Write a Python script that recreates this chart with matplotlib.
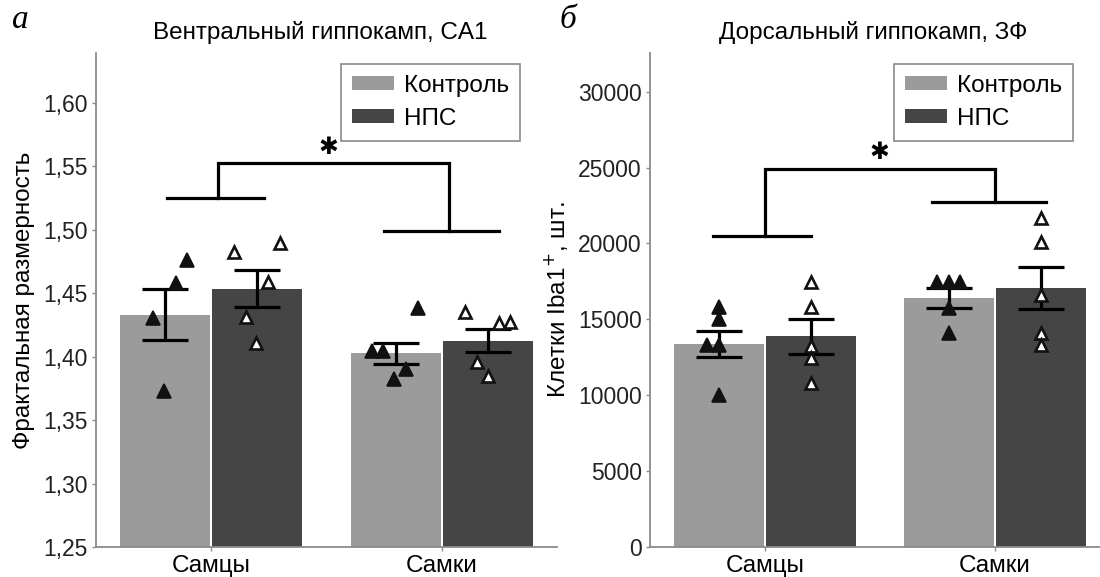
import matplotlib
matplotlib.use('Agg')
import matplotlib.pyplot as plt
import numpy as np
from matplotlib.patches import Patch

plt.rcParams['font.family'] = ['Liberation Sans', 'DejaVu Sans']

groups = ['Самцы', 'Самки']
series = ['Контроль', 'НПС']
colors = ['#9b9b9b', '#454545']

# ---- panel a ----
a_title = 'Вентральный гиппокамп, CA1'
a_ylabel = 'Фрактальная размерность'
a_ticks = [1.25, 1.30, 1.35, 1.40, 1.45, 1.50, 1.55, 1.60]
a_ticklabels = ['1,25', '1,30', '1,35', '1,40', '1,45', '1,50', '1,55', '1,60']
a_mean_ctrl = [1.433, 1.4025]
a_mean_nps = [1.4535, 1.4123]
a_sem_ctrl = [0.020, 0.0085]
a_sem_nps = [0.0145, 0.009]
a_pts_ctrl = [[1.476, 1.458, 1.430, 1.373],
              [1.404, 1.404, 1.390, 1.382, 1.438]]
a_pts_nps = [[1.482, 1.489, 1.459, 1.431, 1.411],
             [1.435, 1.426, 1.427, 1.396, 1.385]]
a_jit_ctrl = [[0.093, 0.046, -0.054, -0.007],
              [-0.103, -0.054, 0.045, -0.007, 0.095]]
a_jit_nps = [[-0.102, 0.098, 0.046, -0.051, -0.004],
             [-0.101, 0.047, 0.098, -0.047, 0.0]]
a_sig = dict(left=1.525, right=1.499, top=1.552)

# ---- panel b ----
b_title = 'Дорсальный гиппокамп, ЗФ'
b_ylabel = 'Клетки Iba1$^{+}$, шт.'
b_ticks = [0, 5000, 10000, 15000, 20000, 25000, 30000]
b_ticklabels = ['0', '5000', '10000', '15000', '20000', '25000', '30000']
b_mean_ctrl = [13400, 16400]
b_mean_nps = [13870, 17060]
b_sem_ctrl = [860, 660]
b_sem_nps = [1150, 1400]
b_pts_ctrl = [[15845, 15012, 13318, 13318, 10021],
              [17492, 17492, 17492, 15735, 14131]]
b_pts_nps = [[17492, 15845, 13273, 12482, 10791],
             [21671, 20100, 16614, 14131, 13318]]
b_jit_ctrl = [[0, 0, -0.051, 0, 0], [-0.051, 0, 0.048, 0, 0]]
b_jit_nps = [[0, 0, 0, 0, 0], [0, 0, 0, 0, 0]]
b_sig = dict(left=20524, right=22726, top=24922)

W, H = 1100, 577
fig = plt.figure(figsize=(W / 100, H / 100), dpi=100)

spine_col = '#8a8a8a'
bw = 0.39
off = 0.2


def panel(ax, ylim, ticks, ticklabels, means, sems, pts, jits, sig, ylabel,
          sig_x):
    x = np.arange(len(groups))
    for k in range(2):
        xs = x + (-off if k == 0 else off)
        ax.bar(xs, means[k], width=bw, color=colors[k], bottom=0,
               zorder=1, label=series[k])
        ax.errorbar(xs, means[k], yerr=sems[k], fmt='none', ecolor='black',
                    elinewidth=2.3, capsize=16.5, capthick=2.3, zorder=3)
        for g in range(2):
            px = xs[g] + np.array(jits[k][g])
            if k == 0:
                ax.plot(px, pts[k][g], ls='none', marker='^', ms=10,
                        mfc='#111111', mec='#111111', mew=1.2, zorder=4)
            else:
                ax.plot(px, pts[k][g], ls='none', marker='^', ms=9,
                        mfc='white', mec='#111111', mew=1.9, zorder=4)
    # significance bracket
    lx0, lx1, vl, vr, rx0, rx1, sx = sig_x
    lw = 2.3
    ax.plot([lx0, lx1], [sig['left']] * 2, color='black', lw=lw, zorder=3)
    ax.plot([rx0, rx1], [sig['right']] * 2, color='black', lw=lw, zorder=3)
    ax.plot([vl, vl, vr, vr], [sig['left'], sig['top'], sig['top'], sig['right']],
            color='black', lw=lw, zorder=3, solid_joinstyle='miter')
    ax.annotate('✱', xy=(sx, sig['top']), xytext=(0, 12),
                textcoords='offset points', ha='center', va='center',
                fontsize=17, family='DejaVu Sans', weight='bold',
                color='black')

    ax.set_ylim(*ylim)
    ax.set_xlim(-0.5, 1.5)
    ax.set_yticks(ticks)
    ax.set_yticklabels(ticklabels)
    ax.set_xticks(x)
    ax.set_xticklabels(groups)
    for s in ['top', 'right']:
        ax.spines[s].set_visible(False)
    for s in ['left', 'bottom']:
        ax.spines[s].set_color(spine_col)
        ax.spines[s].set_linewidth(1.3)
    ax.tick_params(axis='both', colors=spine_col, length=3, width=1,
                   labelcolor='#222222', labelsize=16.5, pad=3)
    ax.tick_params(axis='x', labelcolor='black', labelsize=17.5, pad=3)
    ax.set_ylabel(ylabel, fontsize=17.5, color='black', labelpad=6)

    handles = [Patch(facecolor=colors[0]), Patch(facecolor=colors[1])]
    leg = ax.legend(handles, series, loc='upper right',
                    bbox_to_anchor=(0.92, 0.978), fontsize=17.5,
                    fancybox=False, framealpha=1, edgecolor='#8a8a8a',
                    handlelength=1.75, handleheight=0.5, handletextpad=0.4,
                    borderpad=0.45, labelspacing=0.45, borderaxespad=0)
    leg.get_frame().set_linewidth(1.2)


bottom = (H - 547) / H
height = (547 - 53) / H
ax1 = fig.add_axes([96 / W, bottom, 461 / W, height])
ax2 = fig.add_axes([650 / W, bottom, 460 / W, height])

panel(ax1, (1.25, 1.639), a_ticks, a_ticklabels,
      [a_mean_ctrl, a_mean_nps], [a_sem_ctrl, a_sem_nps],
      [a_pts_ctrl, a_pts_nps], [a_jit_ctrl, a_jit_nps], a_sig, a_ylabel,
      (-0.19, 0.23, 0.03, 1.03, 0.75, 1.25, 0.51))
panel(ax2, (0, 32550), b_ticks, b_ticklabels,
      [b_mean_ctrl, b_mean_nps], [b_sem_ctrl, b_sem_nps],
      [b_pts_ctrl, b_pts_nps], [b_jit_ctrl, b_jit_nps], b_sig, b_ylabel,
      (-0.227, 0.2, 0.0, 1.0, 0.725, 1.222, 0.497))

fig.text(320 / W, 1 - 33 / H, a_title, ha='center', va='center', fontsize=17.5)
fig.text(873 / W, 1 - 33 / H, b_title, ha='center', va='center', fontsize=17.5)
fig.text(12 / W, 1 - 20 / H, 'а', ha='left', va='center', fontsize=24,
         family='Liberation Serif', style='italic')
fig.text(560 / W, 1 - 20 / H, 'б', ha='left', va='center', fontsize=24,
         family='Liberation Serif', style='italic')

fig.savefig('out.png', dpi=100)
